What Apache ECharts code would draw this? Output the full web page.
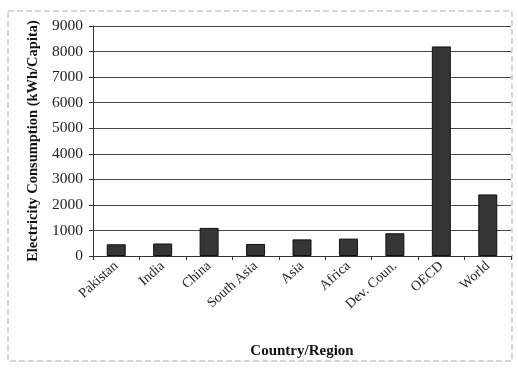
<!DOCTYPE html>
<html><head><meta charset="utf-8">
<script src="https://cdn.jsdelivr.net/npm/echarts@6/dist/echarts.min.js"></script>
<style>html,body{margin:0;padding:0;background:#fff}#c{width:518px;height:368px}</style>
</head><body><div id="c"></div>
<script>
const categories = ['Pakistan','India','China','South Asia','Asia','Africa','Dev. Coun.','OECD','World'];
const consumption = [460, 490, 1100, 470, 650, 680, 890, 8200, 2410];
const yTicks = [0,1000,2000,3000,4000,5000,6000,7000,8000,9000];

const chart = echarts.init(document.getElementById('c'), null, {renderer:'canvas'});
const serif = '"Liberation Serif", "Times New Roman", serif';
chart.setOption({
  animation:false,
  backgroundColor:'#fff',
  graphic:[{type:'rect',shape:{x:8,y:11,width:504,height:350},style:{fill:'none',stroke:'#aaa',lineWidth:1,lineDash:[6,3]}}],
  grid:{left:93,right:7,top:26,bottom:112},
  xAxis:{type:'category',data:categories,
    axisLine:{lineStyle:{color:'#333',width:1}},
    axisTick:{show:true,length:4,lineStyle:{color:'#333'}},
    axisLabel:{rotate:42,fontFamily:serif,fontSize:14,color:'#222',margin:8,interval:0},
    name:'Country/Region',nameLocation:'middle',nameGap:88,
    nameTextStyle:{fontFamily:serif,fontWeight:'bold',fontSize:15,color:'#111'}},
  yAxis:{type:'value',min:yTicks[0],max:yTicks[yTicks.length-1],interval:1000,
    axisLine:{show:true,lineStyle:{color:'#333'}},
    axisTick:{show:true,length:4,lineStyle:{color:'#333'}},
    splitLine:{lineStyle:{color:'#444',width:1}},
    axisLabel:{fontFamily:serif,fontSize:15.5,color:'#222',margin:10,formatter:v=>String(v)},
    name:'Electricity Consumption (kWh/Capita)',nameLocation:'middle',nameGap:52,
    nameTextStyle:{fontFamily:serif,fontWeight:'bold',fontSize:14.5,color:'#111'}},
  series:[{type:'bar',data:consumption,barWidth:19,
    itemStyle:{color:'#353535',borderColor:'#111',borderWidth:1}}]
});
</script></body></html>
